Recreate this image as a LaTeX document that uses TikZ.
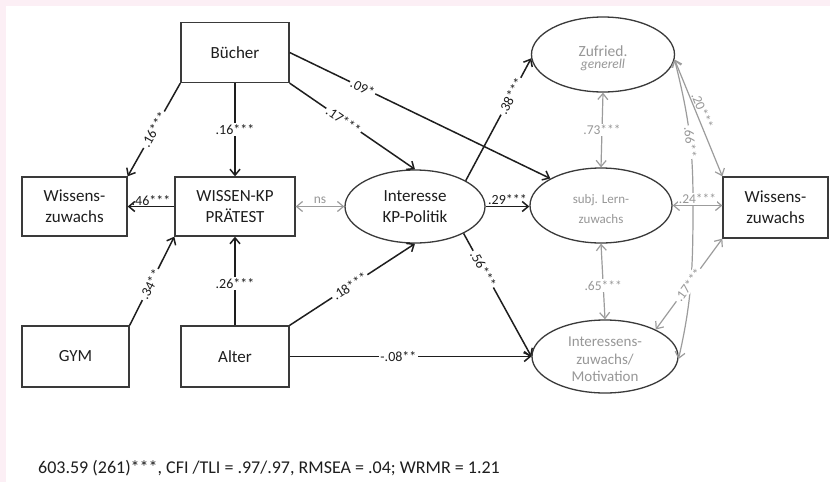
\documentclass[tikz,border=0pt]{standalone}
\usepackage{fontspec}
\setmainfont{Carlito}
\usetikzlibrary{arrows.meta,shapes.geometric}
\definecolor{bgpink}{HTML}{FCEFF5}
\definecolor{lgray}{HTML}{9C9C9C}
\definecolor{tgray}{HTML}{979797}
\definecolor{ink}{HTML}{1E1E1E}
\definecolor{edgec}{HTML}{3A3A3A}
\begin{document}
\begin{tikzpicture}[x=1pt,y=-1pt,
 box/.style={draw=edgec, line width=1.3pt, rectangle, inner sep=0pt, align=center, font=\fontsize{17}{21}\selectfont, text=ink},
 ell/.style={draw=edgec, line width=1.3pt, ellipse, inner sep=0pt},
 etxt/.style={align=center, inner sep=0pt},
 arr/.style={draw=ink, line width=1.5pt, -{Straight Barb[length=6pt,width=10pt]}},
 garr/.style={draw=lgray, line width=1.2pt, {Straight Barb[length=6pt,width=10pt]}-{Straight Barb[length=6pt,width=10pt]}},
 lab/.style={fill=white, inner sep=1.5pt, font=\fontsize{14}{15}\selectfont, text=ink},
 glab/.style={fill=white, inner sep=1.5pt, font=\fontsize{13.5}{15}\selectfont, text=tgray},
]
\fill[bgpink] (0,0) rectangle (830,482);
\fill[white] (6,6) rectangle (830,482);
\useasboundingbox (0,0) rectangle (830,482);

% boxes
\node[box, minimum width=108pt, minimum height=60pt] (B) at (235,52.5) {Bücher};
\node[box, minimum width=105pt, minimum height=59pt] (WL) at (74.5,206.5) {Wissens-\\zuwachs};
\node[box, minimum width=120pt, minimum height=59pt] (WK) at (235,206.5) {WISSEN-KP\\PRÄTEST};
\node[box, minimum width=107pt, minimum height=61pt] (G) at (75.5,356.5) {GYM};
\node[box, minimum width=108pt, minimum height=61pt] (A) at (235,356.5) {Alter};
\node[box, minimum width=105pt, minimum height=61pt] (WR) at (775.5,207.5) {Wissens-\\zuwachs};

% ellipses
\node[ell, minimum width=140pt, minimum height=73pt] (I) at (415,206.5) {};
\node[etxt, font=\fontsize{17}{21}\selectfont, text=ink] (It) at (415,207) {Interesse\\KP-Politik};
\node[ell, minimum width=143pt, minimum height=75pt] (Z) at (603,54.5) {};
\node[etxt, text=tgray] (Zt) at (603,58) {{\fontsize{15.5}{19}\selectfont Zufried.}\\{\fontsize{13.5}{19}\selectfont\itshape generell}};
\node[ell, minimum width=142pt, minimum height=75pt] (S) at (601,205.5) {};
\node[etxt, font=\fontsize{13}{20}\selectfont, text=tgray] (St) at (601,209) {subj. Lern-\\zuwachs};
\node[ell, minimum width=146pt, minimum height=73pt] (IM) at (605,356.5) {};
\node[etxt, font=\fontsize{15}{17.5}\selectfont, text=tgray] (IMt) at (605,359.5) {Interessens-\\zuwachs/\\Motivation};

% gray curved correlation .66
\coordinate (c66) at (693,200);
\draw[garr] (Z.-4) to[out=-76,in=90] node[glab, pos=0.6, sloped] {.66**} (c66) to[out=-90,in=77] (IM.-2);

% black paths
\draw[arr] (B.south west) -- node[lab, sloped] {.16***} (WL.north east);
\draw[arr] (B.south) -- node[lab] {.16***} (WK.north);
\draw[arr] (B.south east) -- node[lab, pos=0.43, sloped] {.17***} (I.north);
\draw[arr] (B.east) -- node[lab, pos=0.28, sloped] {.09*} (S.north west);
\draw[arr] (WK.west) -- node[lab, fill=none, above, inner sep=0.5pt] {.46***} (WL.west -| WL.east);
\draw[arr] (G.north east) -- node[lab, pos=0.46, sloped] {.34**} (WK.south west);
\draw[arr] (A.north) -- node[lab, pos=0.47] {.26***} (WK.south);
\draw[arr] (A.north east) -- node[lab, pos=0.48, sloped] {.18***} (I.south);
\draw[arr] (A.east) -- node[lab, pos=0.45] {-.08**} (IM.west);
\draw[arr] (I.27) -- node[lab, pos=0.69, sloped] {.38***} (Z.183);
\draw[arr] (I.east) -- node[lab, fill=none, above, inner sep=1pt] {.29***} (I.east -| S.west);
\draw[arr] (I.-29) -- node[lab, pos=0.29, sloped] {.56***} (IM.west);

% gray paths
\draw[garr] (WK.east) -- node[glab, fill=none, above, inner sep=2pt] {ns} (I.west);
\draw[garr] (Z.south) -- node[glab] {.73***} (S.north);
\draw[garr] (S.south) -- node[glab, pos=0.55] {.65***} (IM.north);
\draw[garr] (Z.-4) -- node[glab, fill=none, pos=0.46, sloped, above, inner sep=1pt] {.20***} (WR.north west);
\draw[garr] (S.east) -- node[glab, above, inner sep=1pt] {.24***} (S.east -| WR.west);
\draw[garr] (IM.28) -- node[glab, pos=0.49, sloped] {.17***} (WR.south west);

% fit statistics
\node[anchor=west, inner sep=0pt, font=\fontsize{18}{22}\selectfont, text=ink] (fit) at (38,468) {603.59 (261)***, CFI /TLI = .97/.97, RMSEA = .04; WRMR = 1.21};
\end{tikzpicture}
\end{document}
